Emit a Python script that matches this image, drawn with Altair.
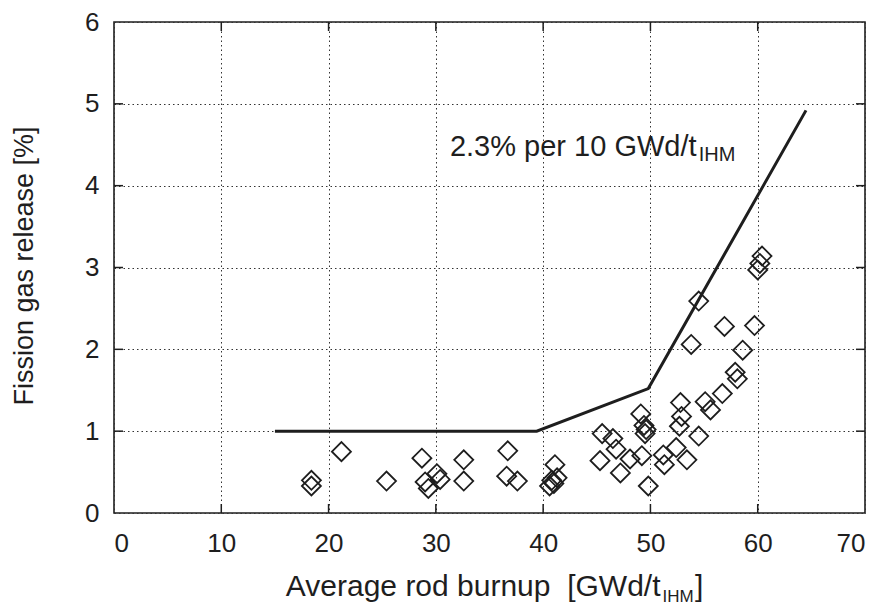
import altair as alt
import pandas as pd

# ---- data ----
burnup = [18.4, 18.4, 21.2, 25.4, 28.7, 29.0, 29.3, 30.1, 30.4, 32.6, 32.6, 36.7, 36.6, 37.6,
          41.1, 40.8, 41.3, 40.6, 41.0,
          45.5, 46.5, 46.8, 45.3, 47.2, 48.1, 49.2, 49.1, 49.4, 49.6, 49.5, 49.8, 51.2, 51.3,
          52.4, 53.4, 52.8, 52.9, 52.7, 54.5, 55.1, 55.6, 56.7, 57.9, 58.1, 58.6, 56.9, 59.7,
          53.8, 54.5, 60.4, 60.2, 60.0]
fgr = [0.40, 0.33, 0.75, 0.39, 0.67, 0.38, 0.30, 0.48, 0.41, 0.65, 0.39, 0.76, 0.45, 0.39,
       0.59, 0.40, 0.43, 0.33, 0.36,
       0.97, 0.91, 0.78, 0.64, 0.49, 0.66, 0.70, 1.21, 1.07, 1.02, 0.97, 0.33, 0.71, 0.59,
       0.80, 0.65, 1.35, 1.18, 1.06, 0.94, 1.36, 1.26, 1.46, 1.72, 1.64, 1.99, 2.28, 2.29,
       2.06, 2.59, 3.14, 3.05, 2.97]
line_x = [15.0, 39.4, 49.8, 64.5]
line_y = [1.0, 1.0, 1.52, 4.92]
x_ticks = [0, 10, 20, 30, 40, 50, 60, 70]
y_ticks = [0, 1, 2, 3, 4, 5, 6]
annot_text = ["2.3% per 10 GWd/t", "IHM"]
annot_x = [54.3, 54.5]
annot_y = [4.367, 4.30]
x_title = ["Average rod burnup\u00a0\u00a0[GWd/t", "IHM", "]"]
y_title = "Fission gas release [%]"

FONT = "Liberation Sans, Arial, Helvetica, sans-serif"
INK = "#1e1e1e"
W, H = 751, 491

xs = alt.Scale(domain=[0, 70], nice=False, zero=False)
ys = alt.Scale(domain=[0, 6], nice=False, zero=False)

pts = pd.DataFrame({"burnup": burnup, "fgr": fgr})
ln = pd.DataFrame({"x": line_x, "y": line_y})
xt = pd.DataFrame({"v": x_ticks[1:-1]})
yt = pd.DataFrame({"v": y_ticks[1:-1]})

x_axis = alt.Axis(values=x_ticks, title=None, grid=True, gridDash=[1.5, 3], gridColor="#333",
                  gridWidth=1, ticks=False, tickSize=0, domain=False, labelFontSize=26,
                  labelPadding=17, labelFont=FONT, labelColor=INK, format="d")
y_axis = alt.Axis(values=y_ticks, title=None, grid=True, gridDash=[1.5, 3], gridColor="#333",
                  gridWidth=1, ticks=False, tickSize=0, domain=False, labelFontSize=26,
                  labelPadding=15, labelFont=FONT, labelColor=INK, format="d")


def X(f):
    return alt.X(f, scale=xs, axis=x_axis)


def Y(f):
    return alt.Y(f, scale=ys, axis=y_axis)


points = alt.Chart(pts).mark_point(shape="diamond", size=361, filled=False, color=INK,
                                    strokeWidth=1.8, opacity=1).encode(
    x=X("burnup:Q"), y=Y("fgr:Q"))

line = alt.Chart(ln).mark_line(color=INK, strokeWidth=3).encode(x=X("x:Q"), y=Y("y:Q"))

TL = 9
tick_style = dict(color=INK, strokeWidth=1.5)
xt_bot = alt.Chart(xt).mark_rule(**tick_style).encode(
    x=X("v:Q"), y=alt.value(H), y2=alt.value(H - TL))
xt_top = alt.Chart(xt).mark_rule(**tick_style).encode(
    x=X("v:Q"), y=alt.value(0), y2=alt.value(TL))
yt_left = alt.Chart(yt).mark_rule(**tick_style).encode(
    y=Y("v:Q"), x=alt.value(0), x2=alt.value(TL))
yt_right = alt.Chart(yt).mark_rule(**tick_style).encode(
    y=Y("v:Q"), x=alt.value(W), x2=alt.value(W - TL))

ann_main = alt.Chart(pd.DataFrame({"t": [annot_text[0]], "x": [annot_x[0]], "y": [annot_y[0]]})).mark_text(
    font=FONT, fontSize=29, color=INK, align="right", baseline="alphabetic").encode(
    x=X("x:Q"), y=Y("y:Q"), text="t:N")
ann_sub = alt.Chart(pd.DataFrame({"t": [annot_text[1]], "x": [annot_x[1]], "y": [annot_y[1]]})).mark_text(
    font=FONT, fontSize=20, color=INK, align="left", baseline="alphabetic").encode(
    x=X("x:Q"), y=Y("y:Q"), text="t:N")

xt1 = alt.Chart(pd.DataFrame({"t": [x_title[0]]})).mark_text(
    font=FONT, fontSize=30, color=INK, align="right", baseline="alphabetic").encode(
    x=alt.value(546.5), y=alt.value(574), text="t:N")
xt2 = alt.Chart(pd.DataFrame({"t": [x_title[1]]})).mark_text(
    font=FONT, fontSize=17, color=INK, align="left", baseline="alphabetic").encode(
    x=alt.value(548.5), y=alt.value(580), text="t:N")
xt3 = alt.Chart(pd.DataFrame({"t": [x_title[2]]})).mark_text(
    font=FONT, fontSize=30, color=INK, align="left", baseline="alphabetic").encode(
    x=alt.value(581), y=alt.value(574), text="t:N")
ytl = alt.Chart(pd.DataFrame({"t": [y_title]})).mark_text(
    font=FONT, fontSize=27, color=INK, align="center", baseline="alphabetic", angle=270).encode(
    x=alt.value(-81), y=alt.value(244), text="t:N")

chart = alt.layer(points, line, xt_bot, xt_top, yt_left, yt_right, ann_main, ann_sub,
                  xt1, xt2, xt3, ytl).properties(
    width=W, height=H,
    autosize=alt.AutoSizeParams(type="none"),
    padding={"left": 114, "top": 22, "right": 16, "bottom": 92},
    background="white",
).configure_view(stroke=INK, strokeWidth=1.6)

chart.save("out.html", embed_options={"renderer": "svg", "actions": False})
